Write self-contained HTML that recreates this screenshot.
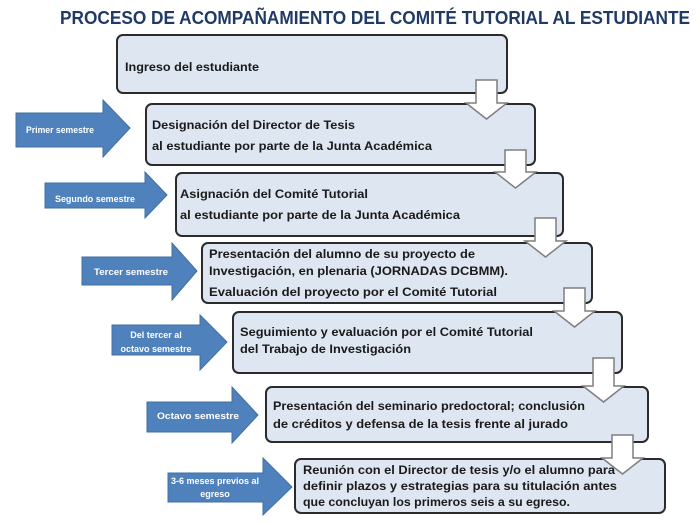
<!DOCTYPE html>
<html><head><meta charset="utf-8"><style>
html,body{margin:0;padding:0;background:#fff;width:700px;height:525px;overflow:hidden}
svg{display:block}
.t{font-family:"Liberation Sans",sans-serif;font-weight:bold;font-size:12px;fill:#1a1a1a}
.l{font-family:"Liberation Sans",sans-serif;font-weight:bold;font-size:9px;fill:#fff}
.b{fill:#dde6f1;stroke:#2b2b2b;stroke-width:2}
.a{fill:#4f81bd;stroke:#41709f;stroke-width:1}
.d{fill:#fff;stroke:#7f7f7f;stroke-width:1.5}
</style></head><body>
<svg width="700" height="525" viewBox="0 0 700 525">
<text x="60" y="24" textLength="630" lengthAdjust="spacingAndGlyphs" font-family="Liberation Sans,sans-serif" font-weight="bold" font-size="18" fill="#1f3a66">PROCESO DE ACOMPAÑAMIENTO DEL COMITÉ TUTORIAL AL ESTUDIANTE</text>

<rect class="b" x="117" y="35" width="390" height="58" rx="6"/>
<rect class="b" x="146" y="104" width="389" height="61" rx="6"/>
<rect class="b" x="176" y="173" width="387" height="63" rx="6"/>
<rect class="b" x="202" y="243" width="390" height="60" rx="6"/>
<rect class="b" x="233" y="312" width="389" height="61" rx="6"/>
<rect class="b" x="266" y="387" width="382" height="55" rx="6"/>
<rect class="b" x="295" y="459" width="370" height="54" rx="6"/>

<g class="d">
<polygon points="476,80 497,80 497,103 507,103 486.5,119 466,103 476,103"/>
<polygon points="505,150 526,150 526,172 536,172 515.5,188 495,172 505,172"/>
<polygon points="535,218 556,218 556,241 566,241 545.5,257 525,241 535,241"/>
<polygon points="564,288 585,288 585,311 595,311 574.5,327 554,311 564,311"/>
<polygon points="593,358 614,358 614,386 624,386 603.5,402 583,386 593,386"/>
<polygon points="612,435 633,435 633,458 643,458 622.5,474 602,458 612,458"/>
</g>

<g class="a">
<polygon points="16,113 103,113 103,100 130,128 103,157 103,147 16,147"/>
<polygon points="45,183 145,183 145,172 167,195 145,218 145,208 45,208"/>
<polygon points="82,257 172,257 172,243 197,271 172,300 172,285 82,285"/>
<polygon points="112,325 200,325 200,315 227,342 200,370 200,355 112,355"/>
<polygon points="147,402 232,402 232,387 258,415 232,443 232,432 147,432"/>
<polygon points="168,473 263,473 263,458 292,487 263,515 263,502 168,502"/>
</g>
<text class="l" x="26" y="133" textLength="68" lengthAdjust="spacingAndGlyphs">Primer semestre</text>
<text class="l" x="55" y="202" textLength="80" lengthAdjust="spacingAndGlyphs">Segundo semestre</text>
<text class="l" x="94" y="275" textLength="74" lengthAdjust="spacingAndGlyphs">Tercer semestre</text>
<text class="l" x="156" y="338" text-anchor="middle">Del tercer al</text>
<text class="l" x="156" y="352" text-anchor="middle">octavo semestre</text>
<text class="l" x="157" y="419" textLength="82" lengthAdjust="spacingAndGlyphs">Octavo semestre</text>
<text class="l" x="215" y="484" text-anchor="middle">3-6 meses previos al</text>
<text class="l" x="215" y="497" text-anchor="middle">egreso</text>

<g class="t">
<text x="125" y="71" textLength="134" lengthAdjust="spacingAndGlyphs">Ingreso del estudiante</text>
<text x="152" y="129" textLength="203" lengthAdjust="spacingAndGlyphs">Designación del Director de Tesis</text>
<text x="152" y="150" textLength="280" lengthAdjust="spacingAndGlyphs">al estudiante por parte de la Junta Académica</text>
<text x="180" y="198" textLength="188" lengthAdjust="spacingAndGlyphs">Asignación del Comité Tutorial</text>
<text x="180" y="219" textLength="280" lengthAdjust="spacingAndGlyphs">al estudiante por parte de la Junta Académica</text>
<text x="209" y="258" textLength="266" lengthAdjust="spacingAndGlyphs">Presentación del alumno de su proyecto de</text>
<text x="209" y="275" textLength="299" lengthAdjust="spacingAndGlyphs">Investigación, en plenaria (JORNADAS  DCBMM).</text>
<text x="209" y="296" textLength="288" lengthAdjust="spacingAndGlyphs">Evaluación  del proyecto por el Comité Tutorial</text>
<text x="240" y="336" textLength="293" lengthAdjust="spacingAndGlyphs">Seguimiento y evaluación por el Comité Tutorial</text>
<text x="240" y="353" textLength="171" lengthAdjust="spacingAndGlyphs">del Trabajo de Investigación</text>
<text x="273" y="410" textLength="312" lengthAdjust="spacingAndGlyphs">Presentación del seminario predoctoral; conclusión</text>
<text x="273" y="428" textLength="295" lengthAdjust="spacingAndGlyphs">de créditos  y defensa de la tesis frente al jurado</text>
<text x="303" y="474" textLength="312" lengthAdjust="spacingAndGlyphs">Reunión con el Director de tesis y/o el alumno para</text>
<text x="303" y="490" textLength="314" lengthAdjust="spacingAndGlyphs">definir  plazos y estrategias para su titulación  antes</text>
<text x="303" y="506" textLength="267" lengthAdjust="spacingAndGlyphs">que concluyan los primeros seis a su egreso.</text>
</g>
</svg>
</body></html>
